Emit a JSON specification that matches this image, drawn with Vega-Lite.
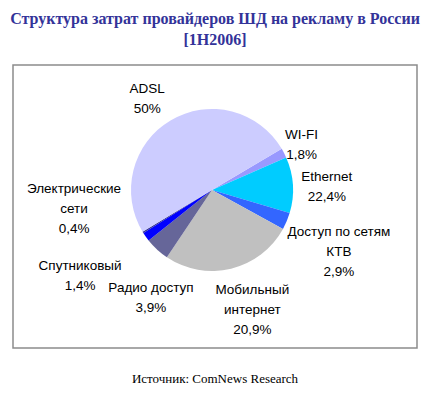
{
  "$schema": "https://vega.github.io/schema/vega-lite/v6.json",
  "background": "white",
  "padding": {"left": 10, "right": 12, "top": 11, "bottom": 10},
  "title": {
    "text": ["Структура затрат провайдеров ШД на рекламу в России", "[1H2006]"],
    "font": "Liberation Serif", "fontSize": 16, "fontWeight": "bold", "color": "#333399",
    "lineHeight": 21, "anchor": "middle", "offset": 16
  },
  "datasets": {
    "d": [
      {"ord": 1, "name": "WI-FI", "value": 1.9, "label": "WI-FI|1,8%"},
      {"ord": 2, "name": "Ethernet", "value": 11.2, "label": "Ethernet|22,4%"},
      {"ord": 3, "name": "Доступ по сетям КТВ", "value": 3.4, "label": "Доступ по сетям|КТВ|2,9%"},
      {"ord": 4, "name": "Мобильный интернет", "value": 26.4, "label": "Мобильный|интернет|20,9%"},
      {"ord": 5, "name": "Радио доступ", "value": 4.9, "label": "Радио доступ|3,9%"},
      {"ord": 6, "name": "Спутниковый", "value": 1.8, "label": "Спутниковый|1,4%"},
      {"ord": 7, "name": "Электрические сети", "value": 0.3, "label": "Электрические|сети|0,4%"},
      {"ord": 8, "name": "ADSL", "value": 50.1, "label": "ADSL|50%"}
    ]
  },
  "vconcat": [
    {
      "width": 404,
      "height": 283,
      "view": {"stroke": "#8c8c8c", "strokeWidth": 1.5, "fill": "white"},
      "title": {
        "text": "Источник: ComNews Research", "orient": "bottom", "anchor": "middle",
        "font": "Liberation Serif", "fontSize": 13, "fontWeight": "normal", "color": "black", "offset": 25
      },
      "data": {"name": "d"},
      "encoding": {
        "theta": {"field": "value", "type": "quantitative", "stack": true, "scale": {"range": [1.037, 7.320]}},
        "order": {"field": "ord", "type": "quantitative"}
      },
      "layer": [
        {
          "mark": {"type": "arc", "outerRadius": 81, "xOffset": -3, "yOffset": -16.5, "stroke": null},
          "encoding": {
            "color": {
              "field": "name", "type": "nominal", "legend": null,
              "scale": {
                "domain": ["WI-FI", "Ethernet", "Доступ по сетям КТВ", "Мобильный интернет", "Радио доступ", "Спутниковый", "Электрические сети", "ADSL"],
                "range": ["#9999FF", "#00CCFF", "#3366FF", "#C0C0C0", "#666699", "#0000FF", "#333399", "#CCCCFF"]
              }
            }
          }
        },
        {
          "mark": {"type": "text", "clip": true, "radius": 104, "dx": -3, "dy": -8, "xOffset": -3, "yOffset": -16.5, "font": "Liberation Sans", "fontSize": 13.5, "lineHeight": 20, "lineBreak": "|", "align": "center", "baseline": "middle", "color": "black"},
          "encoding": {"text": {"condition": {"test": "datum.name === 'WI-FI'", "field": "label"}, "value": ""}}
        },
        {
          "mark": {"type": "text", "clip": true, "radius": 118, "dx": -3, "dy": -6, "xOffset": -3, "yOffset": -16.5, "font": "Liberation Sans", "fontSize": 13.5, "lineHeight": 20, "lineBreak": "|", "align": "center", "baseline": "middle", "color": "black"},
          "encoding": {"text": {"condition": {"test": "datum.name === 'Ethernet'", "field": "label"}, "value": ""}}
        },
        {
          "mark": {"type": "text", "clip": true, "radius": 143, "dx": -5, "dy": -13, "xOffset": -3, "yOffset": -16.5, "font": "Liberation Sans", "fontSize": 13.5, "lineHeight": 20, "lineBreak": "|", "align": "center", "baseline": "middle", "color": "black"},
          "encoding": {"text": {"condition": {"test": "datum.name === 'Доступ по сетям КТВ'", "field": "label"}, "value": ""}}
        },
        {
          "mark": {"type": "text", "clip": true, "radius": 124, "dx": 11, "dy": -20, "xOffset": -3, "yOffset": -16.5, "font": "Liberation Sans", "fontSize": 13.5, "lineHeight": 20, "lineBreak": "|", "align": "center", "baseline": "middle", "color": "black"},
          "encoding": {"text": {"condition": {"test": "datum.name === 'Мобильный интернет'", "field": "label"}, "value": ""}}
        },
        {
          "mark": {"type": "text", "clip": true, "radius": 121, "dx": 21, "dy": 9, "xOffset": -3, "yOffset": -16.5, "font": "Liberation Sans", "fontSize": 13.5, "lineHeight": 20, "lineBreak": "|", "align": "center", "baseline": "middle", "color": "black"},
          "encoding": {"text": {"condition": {"test": "datum.name === 'Радио доступ'", "field": "label"}, "value": ""}}
        },
        {
          "mark": {"type": "text", "clip": true, "radius": 153, "dx": -7, "dy": -12, "xOffset": -3, "yOffset": -16.5, "font": "Liberation Sans", "fontSize": 13.5, "lineHeight": 20, "lineBreak": "|", "align": "center", "baseline": "middle", "color": "black"},
          "encoding": {"text": {"condition": {"test": "datum.name === 'Спутниковый'", "field": "label"}, "value": ""}}
        },
        {
          "mark": {"type": "text", "clip": true, "radius": 136, "dx": -22, "dy": -72, "xOffset": -3, "yOffset": -16.5, "font": "Liberation Sans", "fontSize": 13.5, "lineHeight": 20, "lineBreak": "|", "align": "center", "baseline": "middle", "color": "black"},
          "encoding": {"text": {"condition": {"test": "datum.name === 'Электрические сети'", "field": "label"}, "value": ""}}
        },
        {
          "mark": {"type": "text", "clip": true, "radius": 113, "dx": -7, "dy": -4, "xOffset": -3, "yOffset": -16.5, "font": "Liberation Sans", "fontSize": 13.5, "lineHeight": 20, "lineBreak": "|", "align": "center", "baseline": "middle", "color": "black"},
          "encoding": {"text": {"condition": {"test": "datum.name === 'ADSL'", "field": "label"}, "value": ""}}
        }
      ]
    }
  ],
  "config": {
    "view": {"stroke": "#8c8c8c", "strokeWidth": 1.5},
    "concat": {"spacing": 0}
  }
}
